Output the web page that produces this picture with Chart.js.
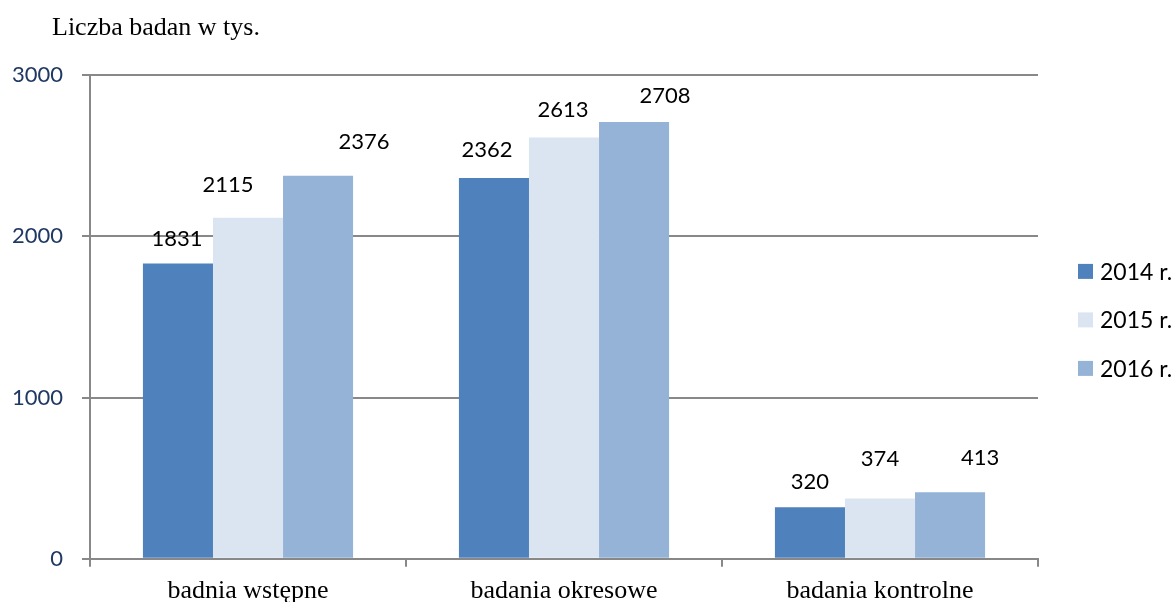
<!DOCTYPE html>
<html>
<head>
<meta charset="utf-8">
<script src="https://cdn.jsdelivr.net/npm/chart.js@4.4.1/dist/chart.umd.min.js"></script>
<style>
  html, body { margin: 0; padding: 0; background: #fff; overflow: hidden; }
  #wrap { position: relative; width: 1176px; height: 620px; }
  #title { position: absolute; left: 52px; top: 12px; font: 26px 'Liberation Serif', 'Times New Roman', serif; color: #000; }
</style>
</head>
<body>
<div id="wrap">
  <div id="title">Liczba badan w tys.</div>
  <canvas id="chart"></canvas>
</div>
<script>
// Data
const categories = ['badnia wstępne', 'badania okresowe', 'badania kontrolne'];
const seriesNames = ['2014 r.', '2015 r.', '2016 r.'];
const values2014 = [1831, 2362, 320];
const values2015 = [2115, 2613, 374];
const values2016 = [2376, 2708, 413];
const yMin = 0, yMax = 3000, yStep = 1000;

const colors = ['#4f81bd', '#dbe5f1', '#95b3d7'];
const gridGray = '#888888';

// label nudges [dx, dy from bar top], per dataset / category
const labelShift = [
    [[-1, -25], [-7, -28], [0, -25]],
    [[-20, -33], [-1, -28], [0, -40]],
    [[46, -34], [31, -26], [30, -34]]
];

// Draw value labels above bars
const valueLabels = {
    id: 'valueLabels',
    afterDatasetsDraw(chart) {
        const ctx = chart.ctx;
        ctx.save();
        ctx.font = "22px Lato, 'Open Sans', sans-serif";
        ctx.fillStyle = '#000';
        ctx.textAlign = 'center';
        ctx.textBaseline = 'middle';
        chart.data.datasets.forEach((ds, di) => {
            chart.getDatasetMeta(di).data.forEach((bar, i) => {
                const s = labelShift[di][i];
                ctx.fillText(String(ds.data[i]), bar.x + s[0], bar.y + s[1]);
            });
        });
        ctx.restore();
    }
};

// Legend on the right
const sideLegend = {
    id: 'sideLegend',
    afterDraw(chart) {
        const ctx = chart.ctx;
        const area = chart.chartArea;
        const midY = (area.top + area.bottom) / 2 + 3;
        const gap = 48.5;
        ctx.save();
        ctx.font = "23px Lato, 'Open Sans', sans-serif";
        ctx.textBaseline = 'middle';
        ctx.textAlign = 'left';
        chart.data.datasets.forEach((ds, i) => {
            const y = midY + (i - 1) * gap;
            const x = area.right + 40;
            ctx.fillStyle = ds.backgroundColor;
            ctx.fillRect(x, y - 7.5, 15, 15);
            ctx.fillStyle = '#000';
            ctx.fillText(ds.label, x + 22, y + 1);
        });
        ctx.restore();
    }
};

new Chart(document.getElementById('chart'), {
    type: 'bar',
    data: {
        labels: categories,
        datasets: [
            { label: seriesNames[0], data: values2014, backgroundColor: colors[0] },
            { label: seriesNames[1], data: values2015, backgroundColor: colors[1] },
            { label: seriesNames[2], data: values2016, backgroundColor: colors[2] }
        ]
    },
    options: {
        responsive: true,
        maintainAspectRatio: false,
        animation: false,
        layout: { padding: { top: 75, left: 12, right: 138, bottom: 4 } },
        datasets: { bar: { categoryPercentage: 0.665, barPercentage: 1 } },
        plugins: {
            legend: { display: false },
            tooltip: { enabled: false }
        },
        scales: {
            x: {
                grid: { offset: true, drawOnChartArea: false, tickLength: 8, color: gridGray, lineWidth: 2 },
                border: { color: gridGray, width: 2 },
                ticks: {
                    padding: 9,
                    color: '#000',
                    font: { family: "'Liberation Serif', 'Times New Roman', serif", size: 26 }
                }
            },
            y: {
                min: yMin,
                max: yMax,
                afterFit: (scale) => { scale.width = 78; },
                grid: { color: gridGray, lineWidth: 2, tickLength: 8 },
                border: { color: gridGray, width: 2 },
                ticks: {
                    stepSize: yStep,
                    padding: 19,
                    color: '#1f3864',
                    font: { family: "Lato, 'Open Sans', sans-serif", size: 22 },
                    callback: (v) => String(v)
                }
            }
        }
    },
    plugins: [valueLabels, sideLegend]
});
</script>
</body>
</html>
